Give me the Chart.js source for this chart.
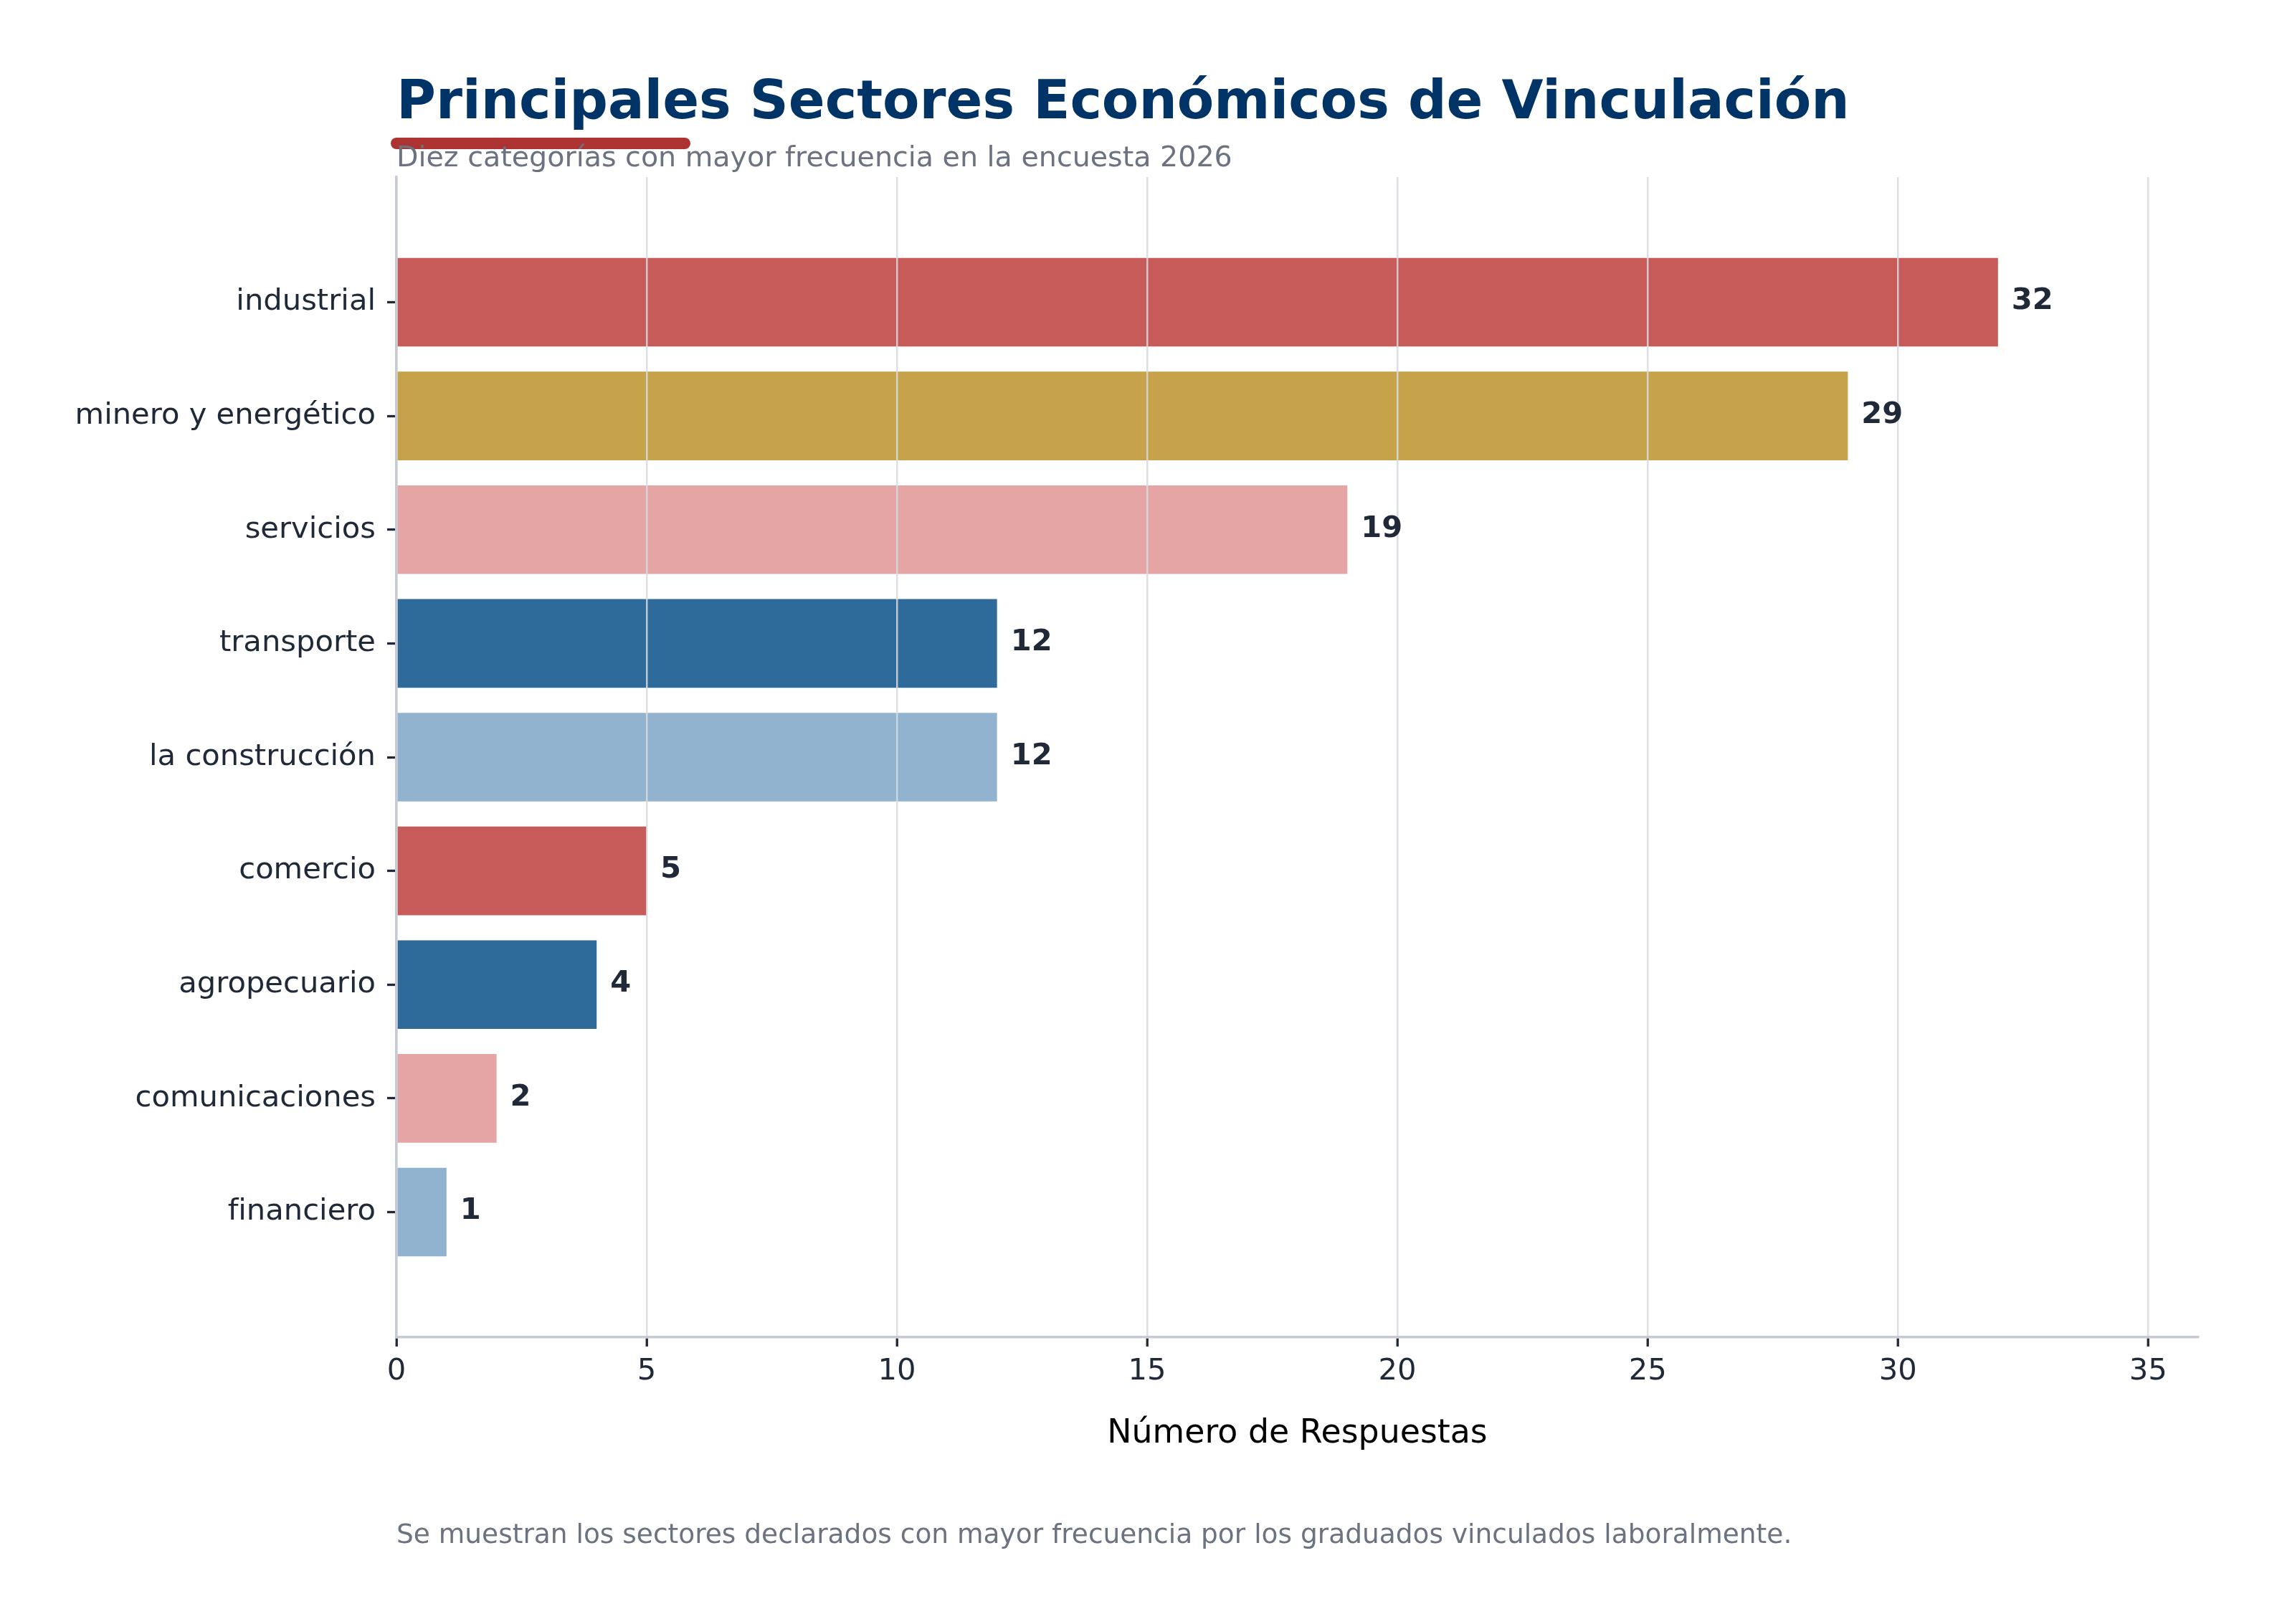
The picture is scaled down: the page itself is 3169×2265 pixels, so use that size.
<!DOCTYPE html>
<html lang="es">
<head>
<meta charset="utf-8">
<title>Principales Sectores Económicos de Vinculación</title>
<script src="https://cdn.jsdelivr.net/npm/chart.js"></script>
<style>
  html, body { margin: 0; padding: 0; background: #ffffff; }
  #wrap { width: 3169px; height: 2265px; }
</style>
</head>
<body>
<div id="wrap"><canvas id="sectorChart" width="3169" height="2265"></canvas></div>
<script>
/* Sectores económicos de vinculación */
const sectores = ['industrial', 'minero y energético', 'servicios', 'transporte', 'la construcción',
                  'comercio', 'agropecuario', 'comunicaciones', 'financiero'];
const respuestas = [32, 29, 19, 12, 12, 5, 4, 2, 1];
const ticksX = [0, 5, 10, 15, 20, 25, 30, 35];

const colores = ['#C75B5A', '#C6A24A', '#E5A5A5', '#2E6B9A', '#91B3CF',
                 '#C75B5A', '#2E6B9A', '#E5A5A5', '#91B3CF'];

const titulo = 'Principales Sectores Económicos de Vinculación';
const subtitulo = 'Diez categorías con mayor frecuencia en la encuesta 2026';
const nota = 'Se muestran los sectores declarados con mayor frecuencia por los graduados vinculados laboralmente.';

const FONT = "'DejaVu Sans', 'Noto Sans', sans-serif";
const INK = '#1f2937';
const MUTED = '#6b7280';
Chart.defaults.font.family = FONT;
Chart.defaults.color = INK;

// header, footer and value labels drawn around the chart area
const decorPlugin = {
    id: 'decor',
    afterDraw(chart) {
        const { ctx, chartArea: area, scales } = chart;
        ctx.save();

        // title
        ctx.fillStyle = '#003366';
        ctx.font = `bold 75px ${FONT}`;
        ctx.textAlign = 'left';
        ctx.textBaseline = 'alphabetic';
        ctx.fillText(titulo, area.left, 165);

        // red accent under the title
        ctx.strokeStyle = '#AD3232';
        ctx.lineWidth = 16;
        ctx.lineCap = 'round';
        ctx.beginPath();
        ctx.moveTo(area.left, 200);
        ctx.lineTo(area.left + 402, 200);
        ctx.stroke();

        // subtitle
        ctx.fillStyle = MUTED;
        ctx.font = `39.6px ${FONT}`;
        ctx.fillText(subtitulo, area.left, 232);

        // footnote
        ctx.font = `37.5px ${FONT}`;
        ctx.fillText(nota, area.left, 2152);

        // value labels
        ctx.fillStyle = INK;
        ctx.font = `bold 41.67px ${FONT}`;
        ctx.textBaseline = 'middle';
        respuestas.forEach((v, i) => {
            const x = scales.x.getPixelForValue(v) + 19;
            const y = scales.y.getPixelForValue(i) - 1;
            ctx.fillText(String(v), x, y);
        });

        ctx.restore();
    }
};

new Chart(document.getElementById('sectorChart'), {
    type: 'bar',
    data: {
        datasets: [{
            data: respuestas.map((v, i) => ({ x: v, y: i })),
            backgroundColor: colores,
            borderWidth: 0,
            categoryPercentage: 1,
            barPercentage: 0.78
        }]
    },
    options: {
        indexAxis: 'y',
        responsive: false,
        devicePixelRatio: 1,
        animation: false,
        layout: { padding: { top: 247, left: 0, right: 103, bottom: 200 } },
        plugins: {
            legend: { display: false },
            tooltip: { enabled: false }
        },
        scales: {
            x: {
                type: 'linear',
                position: 'bottom',
                min: 0,
                max: 36,
                afterFit: s => { s.height = 200; },
                afterBuildTicks: s => { s.ticks = ticksX.map(v => ({ value: v })); },
                grid: {
                    z: 1,   // grid lines over the bars
                    color: 'rgba(214, 218, 225, 0.85)',
                    lineWidth: 2.5,
                    drawTicks: true,
                    tickLength: 13,
                    tickColor: INK,
                    tickWidth: 3.3
                },
                border: { display: true, color: '#c5cad3', width: 3.5, z: 2 },
                ticks: { font: { size: 41.67 }, color: INK, padding: 10, maxRotation: 0 },
                title: {
                    display: true,
                    text: 'Número de Respuestas',
                    color: '#000000',
                    font: { size: 45.83 },
                    padding: { top: 0, bottom: 37 }
                }
            },
            y: {
                type: 'linear',
                position: 'left',
                reverse: true,
                offset: false,
                min: -1.1,
                max: 9.1,
                afterFit: s => { s.width = 553; },
                afterBuildTicks: s => { s.ticks = sectores.map((_, i) => ({ value: i })); },
                grid: {
                    offset: false,
                    drawOnChartArea: false,
                    drawTicks: true,
                    tickLength: 13,
                    tickColor: INK,
                    tickWidth: 3.3
                },
                border: { display: true, color: '#c5cad3', width: 3.5, z: 2 },
                ticks: {
                    font: { size: 41.67 },
                    color: INK,
                    padding: 16,
                    callback: v => sectores[v] ?? ''
                }
            }
        }
    },
    plugins: [decorPlugin]
});
</script>
</body>
</html>
